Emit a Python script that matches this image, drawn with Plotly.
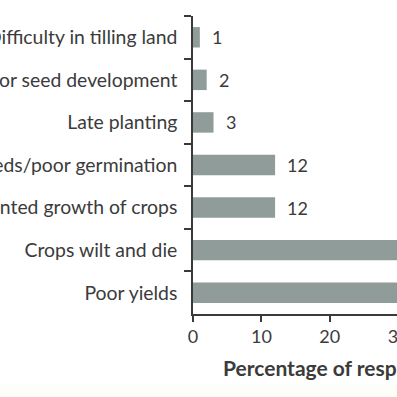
import plotly.graph_objects as go

categories = [
    "Difficulty in tilling land",
    "Poor seed development",
    "Late planting",
    "Poor seeds/poor germination",
    "Stunted growth of crops",
    "Crops wilt and die",
    "Poor yields",
]
values = [1, 2, 3, 12, 12, 38, 47]
x_ticks = [0, 10, 20, 30, 40, 50]

BAR = "#909c9a"
TXT = "#3b3b3b"
AX = "#3a3a3a"
FONT = "Lato"

W = 410
PLOT_W = W - 193

fig = go.Figure(go.Bar(
    x=values, y=categories, orientation="h",
    marker=dict(color=BAR, line=dict(width=0)),
    width=0.48,
))

for c, v in zip(categories, values):
    fig.add_annotation(x=v, y=c, text=str(v), showarrow=False,
                       xanchor="left", xshift=10,
                       font=dict(family=FONT, size=18, color=TXT))

fig.add_annotation(xref="paper", yref="paper", x=(221 - 193) / PLOT_W, y=0,
                   xanchor="left", yanchor="middle", yshift=-53, showarrow=False,
                   text="<b>Percentage of respondents</b>",
                   font=dict(family=FONT, size=21, color=TXT))

fig.add_shape(type="rect", xref="paper", yref="paper",
              x0=-1, x1=1.1, y0=-(384 - 314) / 298, y1=-(400 - 314) / 298,
              fillcolor="#fdfdfa", line=dict(width=0), layer="below")

fig.update_layout(
    width=W, height=397,
    margin=dict(l=193, r=0, t=16, b=83, autoexpand=False),
    paper_bgcolor="white", plot_bgcolor="white",
    showlegend=False,
    font=dict(family=FONT, size=19.4, color=TXT),
)
fig.update_xaxes(range=[0, PLOT_W / 6.84], tickvals=x_ticks, showgrid=False, zeroline=False,
                 showline=True, linecolor=AX, linewidth=1.5,
                 ticks="outside", ticklen=6, tickcolor=AX, tickwidth=1.5,
                 tickfont=dict(family=FONT, size=18, color=TXT), automargin=False)
fig.update_yaxes(autorange="reversed", showgrid=False, zeroline=False,
                 showline=True, linecolor=AX, linewidth=1.5,
                 ticks="outside", tickson="boundaries", ticklen=7,
                 tickcolor=AX, tickwidth=1.5, ticklabelstandoff=10,
                 tickfont=dict(family=FONT, size=19.4, color=TXT), automargin=False)

fig.write_html("out.html", config={"displayModeBar": False},
               post_script=("document.body.style.margin='0';document.body.style.padding='0';"
                            "document.body.style.overflow='hidden';"
                            "document.documentElement.style.overflow='hidden';"))
